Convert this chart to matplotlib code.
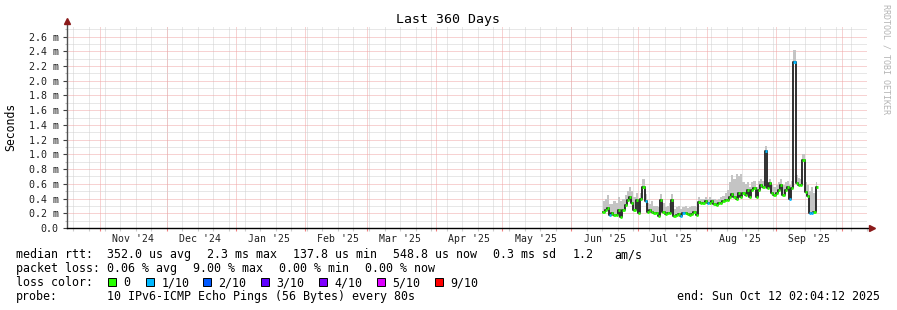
import numpy as np
import pandas as pd
import matplotlib
matplotlib.use("Agg")
import matplotlib.pyplot as plt
import matplotlib.dates as mdates
import matplotlib.transforms as mtransforms
from matplotlib.patches import Rectangle
from matplotlib.ticker import FixedLocator, FuncFormatter, MultipleLocator, NullFormatter

W, H = 897, 310
MONO = "DejaVu Sans Mono"

# time window of the graph
start = pd.Timestamp("2024-10-17 02:04:12")
end = pd.Timestamp("2025-10-12 02:04:12")
first_sample = pd.Timestamp("2025-06-15 12:00")

# daily median rtt (ms)
median_ms = [
    0.22, 0.24, 0.27, 0.18, 0.20, 0.18, 0.18, 0.24, 0.15, 0.24,
    0.31, 0.38, 0.42, 0.34, 0.24, 0.38, 0.20, 0.40, 0.56, 0.36,
    0.22, 0.24, 0.22, 0.21, 0.20, 0.16, 0.38, 0.22, 0.19, 0.21,
    0.20, 0.38, 0.16, 0.18, 0.19, 0.16, 0.20, 0.21, 0.19, 0.18,
    0.19, 0.22, 0.18, 0.35, 0.34, 0.34, 0.36, 0.34, 0.34, 0.36,
    0.32, 0.31, 0.34, 0.34, 0.36, 0.38, 0.38, 0.42, 0.46, 0.42,
    0.40, 0.47, 0.42, 0.47, 0.45, 0.51, 0.42, 0.51, 0.54, 0.42,
    0.52, 0.58, 0.56, 1.04, 0.54, 0.61, 0.47, 0.45, 0.47, 0.51,
    0.58, 0.45, 0.51, 0.55, 0.40, 0.54, 2.26, 0.61, 0.58, 0.58,
    0.92, 0.49, 0.43, 0.21, 0.20, 0.22, 0.55,
]

# top of the smoke (slowest ping) per day, ms
smoke_max_ms = [
    0.36, 0.40, 0.45, 0.33, 0.32, 0.36, 0.34, 0.42, 0.36, 0.40,
    0.45, 0.50, 0.55, 0.50, 0.42, 0.48, 0.36, 0.48, 0.66, 0.46,
    0.34, 0.32, 0.36, 0.30, 0.30, 0.28, 0.46, 0.34, 0.28, 0.30,
    0.34, 0.46, 0.26, 0.28, 0.30, 0.26, 0.28, 0.30, 0.27, 0.28,
    0.30, 0.30, 0.28, 0.42, 0.40, 0.40, 0.42, 0.40, 0.42, 0.40,
    0.40, 0.38, 0.40, 0.42, 0.44, 0.48, 0.52, 0.62, 0.72, 0.66,
    0.74, 0.70, 0.74, 0.62, 0.60, 0.62, 0.56, 0.62, 0.64, 0.56,
    0.64, 0.66, 0.64, 1.12, 0.62, 0.66, 0.58, 0.56, 0.58, 0.62,
    0.66, 0.58, 0.62, 0.64, 0.58, 0.64, 2.42, 0.72, 0.68, 0.66,
    1.00, 0.62, 0.58, 0.50, 0.56, 0.48, 0.62,
]

# packet loss per day, in tenths
loss_tenths = [
    0, 0, 0, 1, 0, 0, 0, 0, 0, 0,
    0, 0, 0, 0, 0, 0, 0, 0, 0, 1,
    0, 0, 0, 0, 0, 0, 0, 0, 0, 0,
    0, 0, 0, 0, 0, 1, 1, 0, 0, 0,
    0, 0, 0, 0, 0, 0, 0, 1, 0, 0,
    0, 0, 0, 0, 0, 0, 0, 0, 0, 0,
    0, 0, 0, 0, 0, 0, 0, 0, 0, 0,
    0, 0, 0, 1, 0, 0, 0, 0, 0, 0,
    0, 0, 0, 0, 1, 0, 1, 0, 0, 0,
    0, 0, 0, 1, 1, 0, 0,
]

loss_levels = [0, 1, 2, 3, 4, 5, 9]
loss_labels = ["0", "1/10", "2/10", "3/10", "4/10", "5/10", "9/10"]
loss_colors = ["#26ff00", "#00b8ff", "#0059ff", "#5e00ff", "#7e00ff", "#dd00ff", "#ff0000"]

month_starts = pd.date_range("2024-11-01", "2025-10-01", freq="MS")
week_starts = pd.date_range(start.normalize(), end, freq="W-SUN")

t = pd.date_range(first_sample, periods=len(median_ms), freq="D")
med = np.array(median_ms)
hi = np.array(smoke_max_ms)
loss = np.array(loss_tenths)
half = pd.Timedelta(hours=12)


def fx(x):
    return x / W


def fy(y):
    return 1 - y / H


fig = plt.figure(figsize=(W / 100, H / 100), dpi=100)
ax = fig.add_axes([fx(67), fy(228), 800 / W, 202 / H])
ax.set_xlim(start, end)
ax.set_ylim(0, 2.743)
for s in ax.spines.values():
    s.set_visible(False)

# dotted grid
major_grid = dict(color="#f0a6a6", lw=0.72, ls=(0, (1, 1)))
minor_grid = dict(color="#d0d0d0", lw=0.72, ls=(0, (1, 1)))
for w in week_starts:
    if start < w < end:
        ax.axvline(w, zorder=0, **minor_grid)
for m in month_starts:
    ax.axvline(m, zorder=0.5, **major_grid)
ax.yaxis.set_major_locator(MultipleLocator(0.2))
ax.yaxis.set_minor_locator(MultipleLocator(0.1))
ax.grid(axis="y", which="minor", zorder=0, **minor_grid)
ax.grid(axis="y", which="major", zorder=0.5, **major_grid)
ax.set_axisbelow(True)

ax.yaxis.set_major_formatter(FuncFormatter(lambda v, p: "0.0" if abs(v) < 1e-9 else f"{v:.1f} m"))
ax.tick_params(axis="y", which="major", length=3, width=0.8, color="#404040", pad=3,
               labelsize=7.2, labelcolor="#202020")
ax.tick_params(axis="y", which="minor", length=1.5, width=0.8, color="#bbbbbb")
for lab in ax.get_yticklabels():
    lab.set_family(MONO)

ax.xaxis.set_major_locator(FixedLocator(mdates.date2num(month_starts)))
ax.xaxis.set_minor_locator(FixedLocator(mdates.date2num(week_starts)))
ax.xaxis.set_major_formatter(NullFormatter())
ax.tick_params(axis="x", which="major", length=2, width=0.8, color="#f08080")
ax.tick_params(axis="x", which="minor", length=2, width=0.8, color="#cccccc")

trans = mtransforms.blended_transform_factory(ax.transData, ax.transAxes)
for m in month_starts:
    mid = m + pd.Timedelta(days=15)
    if mid < end:
        ax.text(mid, -13.5 / 202, m.strftime("%b '%y"), transform=trans, ha="center", va="baseline",
                family=MONO, fontsize=7.1, color="#202020")

# smoke and median
ax.fill_between(t, med, hi, step="mid", color="#c4c4c4", lw=0, zorder=2)
ax.plot(t, med, drawstyle="steps-mid", color="#202020", lw=1.3, zorder=3)
for lvl, col in zip(loss_levels, loss_colors):
    mask = loss == lvl
    if mask.any():
        ax.hlines(med[mask], t[mask] - half, t[mask] + half, color=col, lw=2.0, zorder=4)

# axes with arrows
ax.plot([0, 0], [0, 1.02], transform=ax.transAxes, color="#505050", lw=1, clip_on=False, zorder=5)
ax.plot([0, 1.005], [0, 0], transform=ax.transAxes, color="#000000", lw=1, clip_on=False, zorder=5)
ax.plot([0], [1.025], marker="^", ms=4.5, color="#8b1a1a", transform=ax.transAxes, clip_on=False, zorder=6)
ax.plot([1.006], [0], marker=">", ms=4.5, color="#8b1a1a", transform=ax.transAxes, clip_on=False, zorder=6)

# titles
fig.text(fx(448), fy(23.5), "Last 360 Days", ha="center", va="baseline", family=MONO, fontsize=9.5)
fig.text(fx(11), fy(127), "Seconds", ha="center", va="center", rotation=90, family=MONO, fontsize=8.3)
fig.text(fx(886), fy(59), "RRDTOOL / TOBI OETIKER", ha="center", va="center", rotation=-90,
         family=MONO, fontsize=6, color="#b4b4b4")


# legend
def txt(x, y, s, **kw):
    fig.text(fx(x), fy(y + 4), s, ha=kw.pop("ha", "left"), va="baseline", family=MONO,
             fontsize=8.4, **kw)


txt(16, 254, "median rtt:")
for x, s in [(107, "352.0 us avg"), (207, "2.3 ms max"), (293, "137.8 us min"),
             (393, "548.8 us now"), (493, "0.3 ms sd"), (573, "1.2"), (614, "am/s")]:
    txt(x, 254, s)
txt(16, 268, "packet loss:")
for x, s in [(107, "0.06 % avg"), (193, "9.00 % max"), (279, "0.00 % min"), (365, "0.00 % now")]:
    txt(x, 268, s)
txt(16, 282, "loss color:")
box_x = [108, 146, 203, 261, 319, 377, 435]
for bx, lab, col in zip(box_x, loss_labels, loss_colors):
    fig.add_artist(Rectangle((fx(bx), fy(286)), 8 / W, 8 / H, transform=fig.transFigure,
                             facecolor=col, edgecolor="#000000", lw=0.7))
    txt(bx + 15.5, 282, lab)
txt(16, 296, "probe:")
txt(107, 296, "10 IPv6-ICMP Echo Pings (56 Bytes) every 80s")
txt(880, 296, "end: Sun Oct 12 02:04:12 2025", ha="right")

fig.savefig("out.png", dpi=100)
